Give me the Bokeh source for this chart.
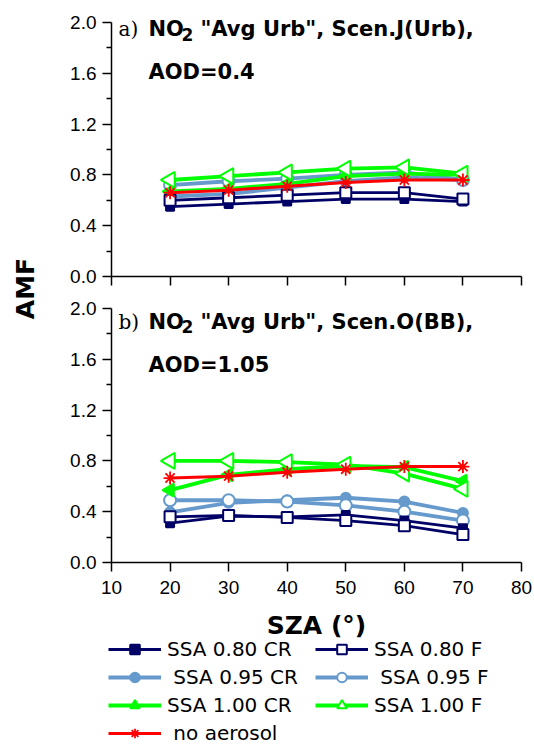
import numpy as np
from bokeh.plotting import figure
from bokeh.models import (Range1d, FixedTicker, NumeralTickFormatter, Label,
                          Legend, LegendItem)
from bokeh.layouts import row, column
from bokeh.embed import file_html
from bokeh.resources import INLINE

# ---------------- data ----------------
sza = [20, 30, 40, 50, 60, 70]

# panel a) Scen.J(Urb), AOD=0.4
a_ssa080_cr = [0.55, 0.57, 0.59, 0.61, 0.61, 0.59]
a_ssa080_f = [0.60, 0.62, 0.64, 0.66, 0.66, 0.61]
a_ssa095_cr = [0.63, 0.65, 0.70, 0.75, 0.78, 0.76]
a_ssa095_f = [0.72, 0.75, 0.77, 0.80, 0.82, 0.76]
a_ssa100_cr = [0.67, 0.69, 0.73, 0.79, 0.81, 0.80]
a_ssa100_f = [0.76, 0.79, 0.82, 0.85, 0.86, 0.81]
a_noaer = [0.66, 0.68, 0.71, 0.74, 0.76, 0.76]

# panel b) Scen.O(BB), AOD=1.05
b_ssa080_cr = [0.31, 0.365, 0.36, 0.375, 0.33, 0.27]
b_ssa080_f = [0.36, 0.37, 0.355, 0.33, 0.29, 0.22]
b_ssa095_cr = [0.395, 0.47, 0.49, 0.51, 0.48, 0.39]
b_ssa095_f = [0.49, 0.49, 0.48, 0.45, 0.40, 0.33]
b_ssa100_cr = [0.57, 0.69, 0.735, 0.76, 0.75, 0.64]
b_ssa100_f = [0.80, 0.80, 0.79, 0.77, 0.70, 0.58]
b_noaer = [0.665, 0.68, 0.71, 0.735, 0.755, 0.755]

series_names = ["SSA 0.80 CR", "SSA 0.80 F", " SSA 0.95 CR", " SSA 0.95 F",
                "SSA 1.00 CR", "SSA 1.00 F", " no aerosol"]
panel_a = [a_ssa080_cr, a_ssa080_f, a_ssa095_cr, a_ssa095_f, a_ssa100_cr, a_ssa100_f, a_noaer]
panel_b = [b_ssa080_cr, b_ssa080_f, b_ssa095_cr, b_ssa095_f, b_ssa100_cr, b_ssa100_f, b_noaer]

y_ticks = [0.0, 0.4, 0.8, 1.2, 1.6, 2.0]
y_minor = [0.2, 0.6, 1.0, 1.4, 1.8]
x_ticks = [10, 20, 30, 40, 50, 60, 70, 80]

# ---------------- styles ----------------
NAVY = "#000066"
LBLUE = "#6699CC"
GREEN = "#00FF00"
RED = "#FF0000"
styles = [
    dict(color=NAVY, lw=2.8, marker="square", size=8, fill=NAVY, angle=0),
    dict(color=NAVY, lw=2.8, marker="square", size=11, fill="white", angle=0),
    dict(color=LBLUE, lw=3.8, marker="circle", size=10, fill=LBLUE, angle=0),
    dict(color=LBLUE, lw=3.8, marker="circle", size=12, fill="white", angle=0),
    dict(color=GREEN, lw=3.8, marker="triangle", size=13, fill=GREEN, angle=np.pi / 2),
    dict(color=GREEN, lw=3.8, marker="triangle", size=16, fill="white", angle=np.pi / 2),
    dict(color=RED, lw=3.0, marker="asterisk", size=13, fill=RED, angle=0),
]
draw_order = [2, 3, 4, 5, 0, 1, 6]

TICK_FONT = "Liberation Sans"
BOLD_FONT = "DejaVu Sans"
LEFT_STRIP = 50          # width of the strip holding the "AMF" title
PANEL_W = 534 - LEFT_STRIP
PX_PER_Y = 127.0         # vertical pixels per AMF unit
X0_PX, X1_PX = 111, 521  # page x of SZA = 10 and SZA = 80
PX_PER_X = (X1_PX - X0_PX) / 70.0


def style_axes(p, show_xlabels):
    p.outline_line_color = None
    p.grid.visible = False
    for ax in (p.xaxis[0], p.yaxis[0]):
        ax.axis_line_width = 1.5
        ax.axis_line_color = "black"
        ax.major_tick_line_width = 1.5
        ax.major_tick_line_color = "black"
        ax.major_tick_in = 0
        ax.major_tick_out = 9
        ax.minor_tick_in = 0
        ax.minor_tick_out = 5
        ax.minor_tick_line_width = 1.5
        ax.minor_tick_line_color = "black"
        ax.major_label_text_font = TICK_FONT
        ax.major_label_text_font_size = "19px"
        ax.major_label_text_color = "black"
    yax = p.yaxis[0]
    yax.ticker = FixedTicker(ticks=y_ticks, minor_ticks=y_minor)
    yax.formatter = NumeralTickFormatter(format="0.0")
    yax.major_label_standoff = 6
    yax.bounds = (0, 2.0)
    yax.fixed_location = 10
    xax = p.xaxis[0]
    xax.ticker = FixedTicker(ticks=x_ticks, minor_ticks=[])
    xax.minor_tick_line_color = None
    xax.bounds = (10, 80)
    xax.fixed_location = 0
    if show_xlabels:
        xax.major_label_standoff = 9
    else:
        xax.major_label_text_color = None
        xax.major_label_text_alpha = 0
        xax.major_label_standoff = 0


def add_title(p, tag, scen, aod, y1, y2):
    p.add_layout(Label(x=11.2, y=y1, text=tag, text_font="DejaVu Serif",
                       text_font_size="20px", text_color="black",
                       text_baseline="alphabetic"))
    common = dict(text_font=BOLD_FONT, text_font_style="bold", text_color="black",
                  text_baseline="alphabetic")
    p.add_layout(Label(x=16.3, y=y1, text="NO", text_font_size="21px", **common))
    p.add_layout(Label(x=16.3, y=y1, x_offset=33, y_offset=-5, text="2",
                       text_font_size="17px", **common))
    p.add_layout(Label(x=16.3, y=y1, x_offset=52, text=scen,
                       text_font_size="21px", **common))
    p.add_layout(Label(x=16.3, y=y2, text=aod, text_font_size="21px", **common))


def make_panel(page_top, height, zero_px, data, show_xlabels):
    # the figure is all frame; the AMF axis spans 0..2, texts live around it
    page_bottom = page_top + height
    y_range = Range1d(-(page_bottom - zero_px) / PX_PER_Y, (zero_px - page_top) / PX_PER_Y)
    x_range = Range1d(10 - (X0_PX - LEFT_STRIP) / PX_PER_X, 80 + (534 - X1_PX) / PX_PER_X)
    p = figure(width=PANEL_W, height=height, x_range=x_range, y_range=y_range,
               title=None, output_backend="svg", toolbar_location=None, min_border=0)
    style_axes(p, show_xlabels)
    rends = {}
    for i in draw_order:
        st = styles[i]
        ln = p.line(sza, data[i], line_color=st["color"], line_width=st["lw"])
        sc = p.scatter(sza, data[i], marker=st["marker"], size=st["size"],
                       angle=st["angle"], line_color=st["color"], fill_color=st["fill"],
                       line_width=2 if st["marker"] != "asterisk" else 1.8)
        rends[i] = [ln, sc]
    return p, rends


top, _ = make_panel(0, 292, 276, panel_a, False)
add_title(top, "a)", '"Avg Urb", Scen.J(Urb),', "AOD=0.4", 1.945, 1.61)

bottom, rends_b = make_panel(292, 453, 562, panel_b, True)
add_title(bottom, "b)", '"Avg Urb", Scen.O(BB),', "AOD=1.05", 1.895, 1.558)
xb = bottom.xaxis[0]
xb.axis_label = "SZA (°)"
xb.axis_label_text_font = BOLD_FONT
xb.axis_label_text_font_style = "bold"
xb.axis_label_text_font_size = "25px"
xb.axis_label_text_color = "black"
xb.axis_label_standoff = 14

items = [LegendItem(label=series_names[i], renderers=rends_b[i]) for i in range(7)]
legend = Legend(items=items, orientation="horizontal", ncols=2,
                location=(108 - LEFT_STRIP, 0), padding=0, spacing=4, margin=0,
                glyph_width=53, glyph_height=24, label_height=24, label_width=144,
                label_standoff=6, label_text_font=BOLD_FONT, label_text_font_size="20px",
                label_text_color="black", border_line_color=None,
                background_fill_alpha=0)
bottom.add_layout(legend)

# left strip carrying the shared y-axis title
left = figure(width=LEFT_STRIP, height=745, x_range=Range1d(0, LEFT_STRIP),
              y_range=Range1d(0, 745), title=None, output_backend="svg",
              toolbar_location=None, x_axis_type=None, y_axis_type=None, min_border=0)
left.outline_line_color = None
left.grid.visible = False
left.add_layout(Label(x=25, y=745 - 288, text="AMF", angle=90, angle_units="deg",
                      text_font=BOLD_FONT, text_font_style="bold", text_font_size="25px",
                      text_color="black", text_align="center", text_baseline="middle"))

layout = row(left, column(top, bottom))
open("out.html", "w").write(file_html(layout, INLINE))
